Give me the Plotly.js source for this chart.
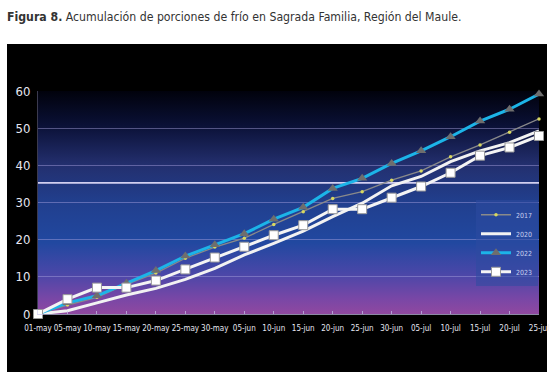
<!DOCTYPE html>
<html>
<head>
<meta charset="utf-8">
<script src="https://cdn.plot.ly/plotly-3.0.1.min.js"></script>
<style>
html,body{margin:0;padding:0;background:#fff;}
#box{position:absolute;left:7px;top:44px;width:540px;height:328px;background:#000;}
#chart{position:absolute;left:0;top:0;width:559px;height:379px;}
</style>
</head>
<body>
<div id="box"></div>
<div id="chart"></div>
<script>
const fechas = ["01-may","05-may","10-may","15-may","20-may","25-may","30-may","05-jun","10-jun","15-jun","20-jun","25-jun","30-jun","05-jul","10-jul","15-jul","20-jul","25-jul"];
const serie2017 = [0,2.4,4.5,8.0,11.0,15.0,18.0,20.4,24.1,27.5,31.1,32.9,36.0,38.5,42.3,45.5,48.9,52.5];
const serie2020 = [0,0.9,3.0,5.1,6.9,9.3,12.3,15.9,19.0,22.3,26.2,29.8,34.5,37.0,41.0,43.9,46.1,49.3];
const serie2022 = [0,3.0,4.9,8.3,11.7,15.6,18.6,21.6,25.5,28.7,33.8,36.5,40.5,43.9,47.7,51.9,55.1,59.2];
const serie2023 = [0,4.0,7.1,7.1,9.0,12.0,15.2,18.1,21.2,23.9,28.2,28.2,31.3,34.3,38.0,42.6,44.8,47.9];
const umbral = 35.3;
const nombres = ["2017","2020","2022","2023"];
const yTicks = [0,10,20,30,40,50,60];

const condensed = '"DejaVu Sans Condensed", "DejaVu Sans", sans-serif';

const grad = '<svg xmlns="http://www.w3.org/2000/svg" width="10" height="100" preserveAspectRatio="none">' +
 '<defs><linearGradient id="g" x1="0" y1="0" x2="0" y2="1">' +
 '<stop offset="0" stop-color="#01020c"/>' +
 '<stop offset="0.15" stop-color="#0a1035"/>' +
 '<stop offset="0.33" stop-color="#232f6e"/>' +
 '<stop offset="0.5" stop-color="#213f8e"/>' +
 '<stop offset="0.68" stop-color="#2148a0"/>' +
 '<stop offset="0.82" stop-color="#4a47a8"/>' +
 '<stop offset="0.93" stop-color="#7847a6"/>' +
 '<stop offset="1" stop-color="#9048a0"/>' +
 '</linearGradient></defs><rect width="10" height="100" fill="url(#g)"/></svg>';
const gradURI = 'data:image/svg+xml;base64,' + btoa(grad);

const traces = [
 {x: [fechas[0], fechas[fechas.length-1]], y: [umbral, umbral], type:'scatter', mode:'lines',
  line:{color:'#d2cff0', width:1.8}, showlegend:false, hoverinfo:'skip'},
 {x: fechas, y: serie2017, name: nombres[0], type:'scatter', mode:'lines+markers',
  line:{color:'#8a8a8a', width:1.3}, marker:{symbol:'circle', size:3.5, color:'#d8d860'},
  cliponaxis:false, legendgroup:'a'},
 {x: fechas, y: serie2020, name: nombres[1], type:'scatter', mode:'lines',
  line:{color:'#f2f2f2', width:3}, cliponaxis:false, legendgroup:'b'},
 {x: fechas, y: serie2022, name: nombres[2], type:'scatter', mode:'lines+markers',
  line:{color:'#1cb4e8', width:3}, marker:{symbol:'triangle-up', size:9, color:'#6e6e6e'},
  cliponaxis:false, legendgroup:'c'},
 {x: fechas, y: serie2023, name: nombres[3], type:'scatter', mode:'lines+markers',
  line:{color:'#f4f4f4', width:3}, marker:{symbol:'square', size:9, color:'#ffffff', line:{color:'#9a9a9a', width:1}},
  cliponaxis:false, legendgroup:'d'}
];

const layout = {
 width:559, height:379,
 paper_bgcolor:'rgba(0,0,0,0)', plot_bgcolor:'rgba(0,0,0,0)',
 margin:{l:38, r:20, t:91, b:65},
 title:{text:'<b>Figura 8.</b> Acumulación de porciones de frío en Sagrada Familia, Región del Maule.',
  x:7/559, xanchor:'left', xref:'container', y:1-17/379, yanchor:'middle', yref:'container',
  font:{family:condensed, size:12.2, color:'#333333'}},
 xaxis:{type:'category', categoryorder:'array', categoryarray:fechas, range:[0, fechas.length-1],
  showgrid:false, zeroline:false,
  showline:true, linecolor:'rgba(200,195,235,0.7)', linewidth:1,
  ticks:'inside', ticklen:3, tickcolor:'rgba(200,195,235,0.7)', ticklabelstandoff:6,
  tickfont:{family:condensed, size:8, color:'#e6e6f0'}, tickangle:0},
 yaxis:{range:[0,60], tickvals:yTicks, showgrid:true, gridcolor:'rgba(170,165,225,0.45)', gridwidth:1,
  zeroline:false, showline:true, linecolor:'rgba(170,165,225,0.35)', ticks:'', ticklabelstandoff:4,
  tickfont:{family:condensed, size:13, color:'#e6e6f0'}},
 legend:{x:0.998, xanchor:'right', y:0.51, yanchor:'top', bgcolor:'rgba(45,75,160,0.55)', borderwidth:0,
  font:{family:condensed, size:7, color:'#c8d0f0'},
  traceorder:'grouped', tracegroupgap:0, itemwidth:30},
 images:[{source:gradURI, xref:'paper', yref:'paper', x:0, y:1, sizex:1, sizey:1,
  sizing:'stretch', layer:'below', xanchor:'left', yanchor:'top'}],
 showlegend:true
};
Plotly.newPlot('chart', traces, layout, {displayModeBar:false, staticPlot:true});
</script>
</body>
</html>
